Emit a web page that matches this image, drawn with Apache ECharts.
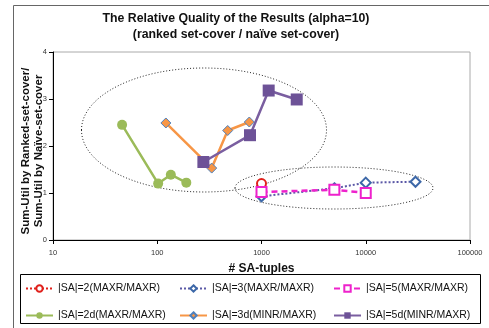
<!DOCTYPE html>
<html><head><meta charset="utf-8">
<script src="https://cdn.jsdelivr.net/npm/echarts@6/dist/echarts.min.js"></script>
<style>html,body{margin:0;padding:0;background:#fff}#c{width:489px;height:328px}</style>
</head><body><div id="c"></div>
<script>
const seriesNames = ['|SA|=2(MAXR/MAXR)','|SA|=3(MAXR/MAXR)','|SA|=5(MAXR/MAXR)','|SA|=2d(MAXR/MAXR)','|SA|=3d(MINR/MAXR)','|SA|=5d(MINR/MAXR)'];
const sa2 = [[1000,1.2]];
const sa3 = [[1000,0.93],[5000,1.1],[10000,1.22],[30000,1.24]];
const sa5 = [[1000,1.02],[5000,1.07],[10000,1.0]];
const sa2d = [[46,2.45],[102,1.2],[135,1.39],[190,1.22]];
const sa3d = [[121,2.49],[333,1.53],[474,2.33],[764,2.51]];
const sa5d = [[277,1.66],[776,2.23],[1172,3.18],[2177,2.99]];
const xRange = [10,100000];
const yRange = [0,4,1];

const chart = echarts.init(document.getElementById('c'));
const FONT = 'Liberation Sans, Arial, sans-serif';
const lg = (left, data) => ({
  orient:'vertical', left:left, top:283, itemWidth:27, itemHeight:8, itemGap:16,
  data:data, textStyle:{fontFamily:FONT,fontSize:10.5,color:'#111'}, padding:0
});
chart.setOption({
  animation:false,
  title:{text:'The Relative Quality of the Results (alpha=10)\n(ranked set-cover / naïve set-cover)',
    left:231, top:6, textAlign:'center',
    textStyle:{fontFamily:FONT,fontSize:12.3,fontWeight:'bold',color:'#111',lineHeight:15.5}},
  grid:{left:53,top:52,right:19,bottom:88,show:true,borderColor:'#aaa',borderWidth:1},
  xAxis:{type:'log',logBase:10,min:xRange[0],max:xRange[1],
    name:'# SA-tuples',nameLocation:'middle',nameGap:23,nameMoveOverlap:false,
    nameTextStyle:{fontFamily:FONT,fontSize:12,fontWeight:'bold',color:'#111'},
    axisLine:{lineStyle:{color:'#000',width:1}},
    axisTick:{show:true,length:4,lineStyle:{color:'#000'}},
    splitLine:{show:false},minorTick:{show:false},
    axisLabel:{fontFamily:FONT,fontSize:7.5,color:'#333',margin:9,formatter:v=>String(Math.round(v))}},
  yAxis:{type:'value',min:yRange[0],max:yRange[1],interval:yRange[2],
    name:'Sum-Util by Ranked-set-cover/\nSum-Util by Naïve-set-cover',nameLocation:'middle',nameGap:8,nameRotate:90,nameMoveOverlap:false,
    nameTextStyle:{fontFamily:FONT,fontSize:11.5,fontWeight:'bold',color:'#111',lineHeight:12.5,padding:[0,10,0,0]},
    axisLine:{show:true,lineStyle:{color:'#000',width:1}},
    axisTick:{show:true,length:4,lineStyle:{color:'#000'}},
    splitLine:{show:false},
    axisLabel:{fontFamily:FONT,fontSize:7.5,color:'#333',margin:6}},
  legend:[lg(25,[seriesNames[0],seriesNames[3]]),lg(179,[seriesNames[1],seriesNames[4]]),lg(333,[seriesNames[2],seriesNames[5]])],
  graphic:[
    {type:'rect',left:11,top:3,shape:{x:0,y:0,width:520,height:400},style:{fill:'none',stroke:'#666',lineWidth:1},silent:true,z:-10},
    {type:'rect',shape:{x:20.5,y:274.5,width:460,height:49},style:{fill:'none',stroke:'#000',lineWidth:1},silent:true},
    {type:'ellipse',shape:{cx:204,cy:130,rx:122.5,ry:62},style:{fill:'none',stroke:'#222',lineWidth:1,lineDash:[1,2]},silent:true,z:1},
    {type:'ellipse',shape:{cx:334,cy:188,rx:99,ry:21},style:{fill:'none',stroke:'#222',lineWidth:1,lineDash:[1,2]},silent:true,z:1}
  ],
  series:[
    {name:seriesNames[0],type:'line',data:sa2,symbol:'emptyCircle',symbolSize:9,
      lineStyle:{color:'#e0201b',type:'dotted',width:2},itemStyle:{color:'#e0201b',borderWidth:1}},
    {name:seriesNames[1],type:'line',data:sa3,symbol:'emptyDiamond',symbolSize:10,
      lineStyle:{color:'#5b58a6',type:'dotted',width:2},itemStyle:{color:'#3d68a8',borderWidth:1}},
    {name:seriesNames[2],type:'line',data:sa5,symbol:'emptyRect',symbolSize:10,
      lineStyle:{color:'#ee22cc',type:[6,4],width:2.5},itemStyle:{color:'#ee22cc',borderWidth:1}},
    {name:seriesNames[3],type:'line',data:sa2d,symbol:'circle',symbolSize:10,
      lineStyle:{color:'#9bbb59',width:2.5},itemStyle:{color:'#9bbb59'}},
    {name:seriesNames[4],type:'line',data:sa3d,symbol:'diamond',symbolSize:10,
      lineStyle:{color:'#f79646',width:2.5},itemStyle:{color:'#f79646',borderColor:'#4f81bd',borderWidth:1}},
    {name:seriesNames[5],type:'line',data:sa5d,symbol:'rect',symbolSize:12,
      lineStyle:{color:'#7a5ea0',width:2.5},itemStyle:{color:'#6d5297'}}
  ]
});
</script></body></html>
